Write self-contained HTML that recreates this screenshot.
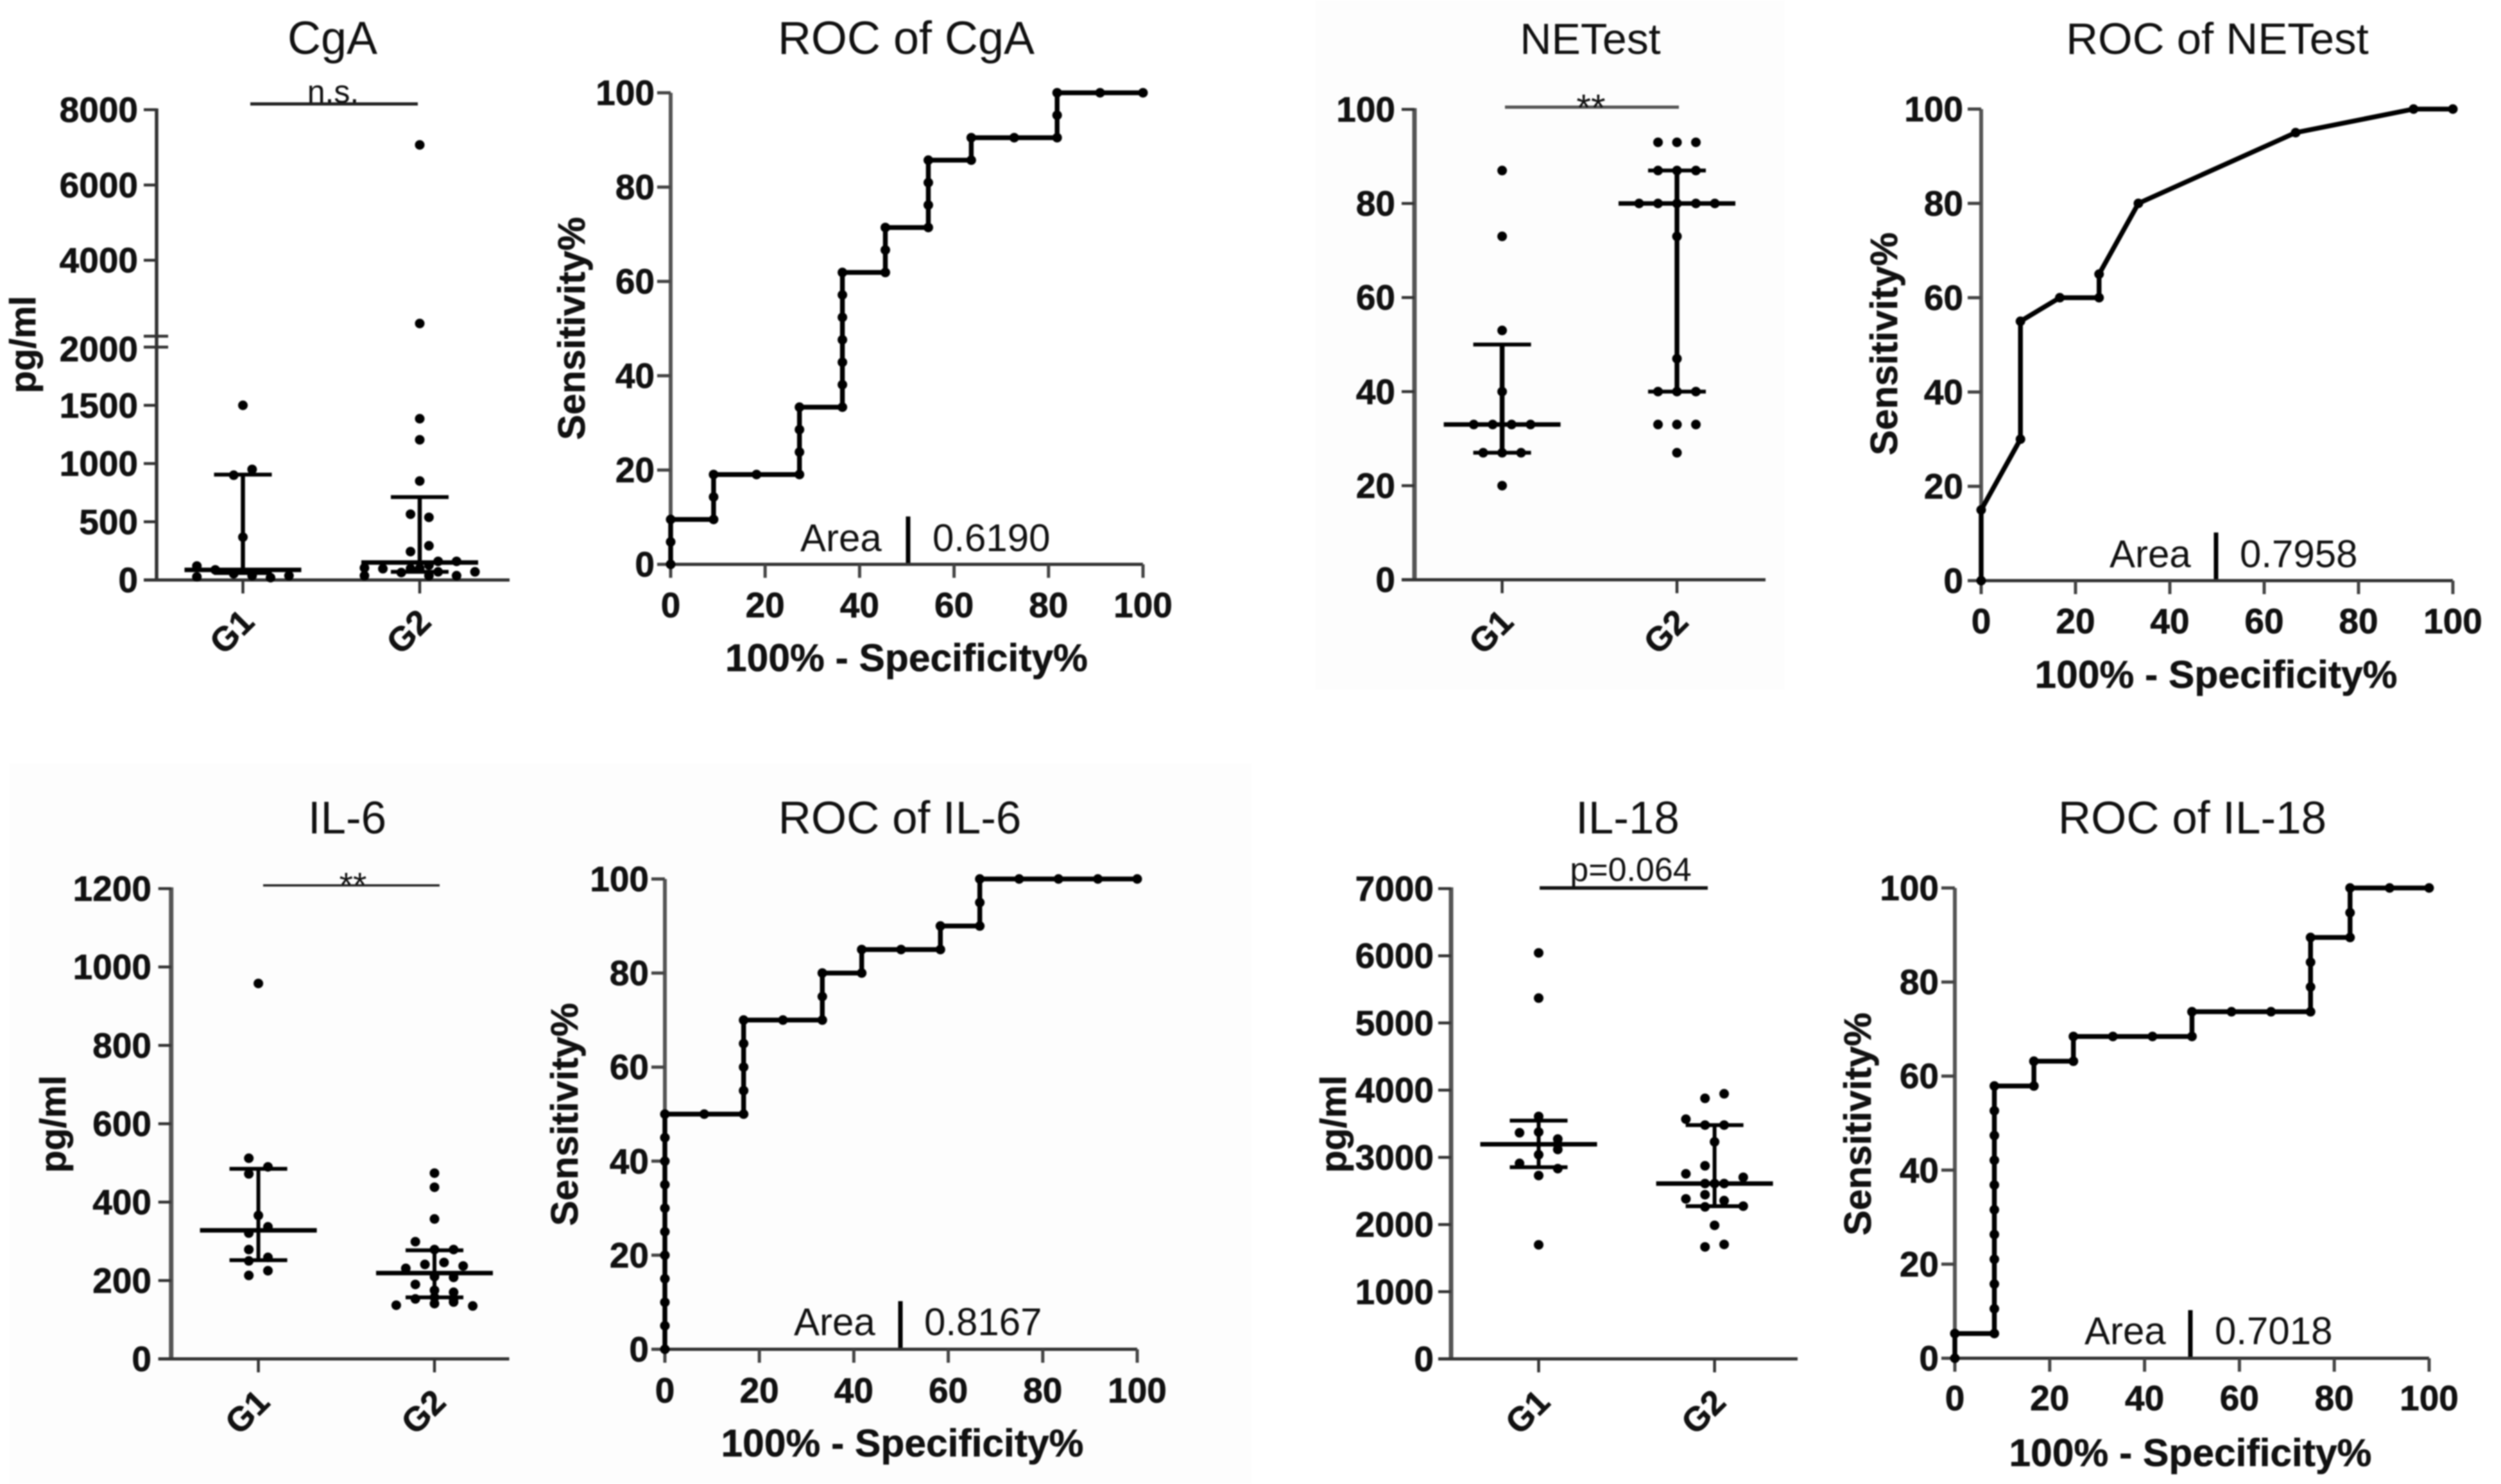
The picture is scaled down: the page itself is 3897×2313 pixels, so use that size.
<!DOCTYPE html>
<html lang="en">
<head>
<meta charset="utf-8">
<title>Biomarker strip plots and ROC curves</title>
<style>
html,body{margin:0;padding:0;background:#fff;}
svg{display:block;filter:blur(1.1px);}
text{font-family:"Liberation Sans",Arial,sans-serif;fill:#111;}
.title{font-size:71px;text-anchor:middle;}
.axis-title{font-size:59px;font-weight:bold;text-anchor:middle;stroke:#111;stroke-width:0.6px;}
.x-title{font-size:60.5px;}
.note{font-size:60px;}
.tick{font-size:55px;font-weight:bold;stroke:#111;stroke-width:0.7px;}
.category{font-size:53px;}
</style>
</head>
<body>
<svg id="figure" xmlns="http://www.w3.org/2000/svg" width="3897" height="2313" viewBox="0 0 3897 2313">
  <rect x="0" y="0" width="3897" height="2313" fill="#ffffff"/>
  <rect x="2050" y="0" width="730" height="1075" fill="#fdfdfd"/>
  <rect x="15" y="1190" width="1935" height="1123" fill="#fdfdfd"/>

  <g id="panel-cga">
    <text class="title" x="518" y="84" style="font-size:72px">CgA</text>
    <text class="axis-title" transform="translate(55 537) rotate(-90)" x="0" y="0" style="font-size:57px">pg/ml</text>
    <line x1="390" y1="162" x2="651" y2="162" stroke="#222" stroke-width="5"/>
    <text x="519" y="160" text-anchor="middle" style="font-size:50px">n.s.</text>
  </g>
  <g id="panel-roc-cga">
    <text class="title" x="1412" y="84" style="font-size:72px">ROC of CgA</text>
    <text class="axis-title" transform="translate(911 512) rotate(-90)" x="0" y="0">Sensitivity%</text>
    <text class="axis-title x-title" x="1412.5" y="1046">100% - Specificity%</text>
    <text class="note" x="1247" y="859">Area</text>
    <line x1="1415" y1="805" x2="1415" y2="879" stroke="#000" stroke-width="7"/>
    <text class="note" x="1453" y="859">0.6190</text>
  </g>

  <g id="panel-netest">
    <text class="title" x="2478" y="84" style="font-size:68px">NETest</text>
    <line x1="2345" y1="167" x2="2616" y2="167" stroke="#555" stroke-width="5"/>
    <text x="2479" y="188" text-anchor="middle" style="font-size:58px">**</text>
  </g>
  <g id="panel-roc-netest">
    <text class="title" x="3455" y="84" style="font-size:69px">ROC of NETest</text>
    <text class="axis-title" transform="translate(2956 536) rotate(-90)" x="0" y="0">Sensitivity%</text>
    <text class="axis-title x-title" x="3453" y="1072">100% - Specificity%</text>
    <text class="note" x="3287" y="884">Area</text>
    <line x1="3453" y1="830" x2="3453" y2="905" stroke="#000" stroke-width="7"/>
    <text class="note" x="3490" y="884">0.7958</text>
  </g>

  <g id="panel-il6">
    <text class="title" x="541" y="1299">IL-6</text>
    <text class="axis-title" transform="translate(102 1752) rotate(-90)" x="0" y="0" style="font-size:57px">pg/ml</text>
    <line x1="410" y1="1380" x2="685" y2="1380" stroke="#222" stroke-width="3.5"/>
    <text x="550" y="1398" text-anchor="middle" style="font-size:55px">**</text>
  </g>
  <g id="panel-roc-il6">
    <text class="title" x="1402" y="1299">ROC of IL-6</text>
    <text class="axis-title" transform="translate(900 1737) rotate(-90)" x="0" y="0">Sensitivity%</text>
    <text class="axis-title x-title" x="1406" y="2270">100% - Specificity%</text>
    <text class="note" x="1237" y="2081">Area</text>
    <line x1="1403" y1="2028" x2="1403" y2="2103" stroke="#000" stroke-width="7"/>
    <text class="note" x="1440" y="2081">0.8167</text>
  </g>

  <g id="panel-il18">
    <text class="title" x="2536" y="1299">IL-18</text>
    <text class="axis-title" transform="translate(2097 1752) rotate(-90)" x="0" y="0" style="font-size:57px">pg/ml</text>
    <line x1="2399" y1="1384" x2="2661" y2="1384" stroke="#111" stroke-width="5.5"/>
    <text x="2541" y="1373" text-anchor="middle" style="font-size:52px">p=0.064</text>
  </g>
  <g id="panel-roc-il18">
    <text class="title" x="3416" y="1299">ROC of IL-18</text>
    <text class="axis-title" transform="translate(2915 1752) rotate(-90)" x="0" y="0">Sensitivity%</text>
    <text class="axis-title x-title" x="3413" y="2285">100% - Specificity%</text>
    <text class="note" x="3248" y="2095">Area</text>
    <line x1="3413" y1="2042" x2="3413" y2="2117" stroke="#000" stroke-width="7"/>
    <text class="note" x="3451" y="2095">0.7018</text>
  </g>
</svg>

<script>
// Shared categories and ticks
const groupLabels = ['G1', 'G2'];
const rocTicks = [0, 20, 40, 60, 80, 100];

// CgA strip: values, swarm column per dot, [q1, median, q3]
const cgaTicks = [0, 500, 1000, 1500, 2000, 4000, 6000, 8000];
const cgaG1Values = [1500, 950, 900, 368, 120, 27, 87, 54, 37, 20, 37];
const cgaG1Columns = [0, 0.5, -0.5, 0, -2.5, -2.5, -1.5, -0.5, 0.5, 1.5, 2.5];
const cgaG1Stats = [60, 87, 905];
const cgaG2Values = [7065, 2320, 1385, 1204, 850, 565, 538, 294, 244, 104, 37, 97, 64, 97, 127, 37, 160, 70, 160, 37, 70, 100];
const cgaG2Columns = [0, 0, 0, 0, 0, -0.5, 0.5, 0.5, -0.5, -3, -3, -2, -1, -0.5, 0.5, 0.5, 1, 1, 2, 2, 3, 0];
const cgaG2Stats = [70, 150, 712];

// CgA ROC
const rocCgaX = [0, 0, 0, 9.09, 9.09, 9.09, 18.18, 27.27, 27.27, 27.27, 27.27, 36.36, 36.36, 36.36, 36.36, 36.36, 36.36, 36.36, 45.45, 45.45, 45.45, 54.55, 54.55, 54.55, 54.55, 63.64, 63.64, 72.73, 81.82, 81.82, 81.82, 90.91, 100];
const rocCgaY = [0, 4.76, 9.52, 9.52, 14.29, 19.05, 19.05, 19.05, 23.81, 28.57, 33.33, 33.33, 38.1, 42.86, 47.62, 52.38, 57.14, 61.9, 61.9, 66.67, 71.43, 71.43, 76.19, 80.95, 85.71, 85.71, 90.48, 90.48, 90.48, 95.24, 100, 100, 100];

// NETest strip
const netestTicks = [0, 20, 40, 60, 80, 100];
const netestG1Values = [87, 73, 53, 40, 33, 33, 33, 33, 27, 27, 27, 20];
const netestG1Columns = [0, 0, 0, 0, -1.5, -0.5, 0.5, 1.5, -1, 0, 1, 0];
const netestG1Stats = [27, 33, 50];
const netestG2Values = [93, 93, 93, 87, 87, 87, 80, 80, 80, 80, 80, 73, 47, 40, 40, 40, 33, 33, 33, 27];
const netestG2Columns = [-1, 0, 1, -1, 0, 1, -2, -1, 0, 1, 2, 0, 0, -1, 0, 1, -1, 0, 1, 0];
const netestG2Stats = [40, 80, 87];

// NETest ROC
const rocNetestX = [0, 0, 8.33, 8.33, 16.67, 25, 25, 33.33, 66.67, 91.67, 100];
const rocNetestY = [0, 15, 30, 55, 60, 60, 65, 80, 95, 100, 100];

// IL-6 strip
const il6Ticks = [0, 200, 400, 600, 800, 1000, 1200];
const il6G1Values = [958, 512, 490, 472, 366, 337, 321, 279, 250, 259, 225, 213];
const il6G1Columns = [0, -0.5, 0.5, -0.5, 0, 0.5, -0.5, -0.5, -0.5, 0.5, 0.5, -0.5];
const il6G1Stats = [252, 328, 485];
const il6G2Values = [474, 438, 357, 299, 279, 279, 231, 241, 246, 237, 210, 208, 190, 175, 170, 153, 157, 153, 141, 137, 135, 145];
const il6G2Columns = [0, 0, 0, -1, 1, 0, -1.5, -0.5, 0.5, 1.5, 0, 1, -1, 0, 1, -1, 0, 1, 0, -2, 2, 1];
const il6G2Stats = [157, 219, 277];

// IL-6 ROC
const rocIl6X = [0, 0, 0, 0, 0, 0, 0, 0, 0, 0, 0, 8.33, 16.67, 16.67, 16.67, 16.67, 16.67, 25, 33.33, 33.33, 33.33, 41.67, 41.67, 50, 58.33, 58.33, 66.67, 66.67, 66.67, 75, 83.33, 91.67, 100];
const rocIl6Y = [0, 5, 10, 15, 20, 25, 30, 35, 40, 45, 50, 50, 50, 55, 60, 65, 70, 70, 70, 75, 80, 80, 85, 85, 85, 90, 90, 95, 100, 100, 100, 100, 100];

// IL-18 strip
const il18Ticks = [0, 1000, 2000, 3000, 4000, 5000, 6000, 7000];
const il18G1Values = [6043, 5370, 3609, 3376, 3366, 3272, 3195, 3117, 3039, 2910, 2832, 2729, 1698];
const il18G1Columns = [0, 0, 0, 0, -1, 1, 1, 1, 0, -1, 1, 0, 0];
const il18G1Stats = [2853, 3195, 3547];
const il18G2Values = [3946, 3878, 3568, 3480, 3480, 3231, 2874, 2755, 2703, 2610, 2610, 2610, 2444, 2382, 2356, 2263, 2273, 1988, 1704, 1667];
const il18G2Columns = [0.5, -0.5, -1.5, -0.5, 0.5, 0, -0.5, -1.5, 1.5, -0.5, 0.5, 0, -0.5, -1.5, 0.5, -0.5, 1.5, 0, 0.5, -0.5];
const il18G2Stats = [2273, 2610, 3480];

// IL-18 ROC
const rocIl18X = [0, 0, 8.33, 8.33, 8.33, 8.33, 8.33, 8.33, 8.33, 8.33, 8.33, 8.33, 8.33, 16.67, 16.67, 25, 25, 33.33, 41.67, 50, 50, 58.33, 66.67, 75, 75, 75, 75, 83.33, 83.33, 83.33, 91.67, 100];
const rocIl18Y = [0, 5.26, 5.26, 10.53, 15.79, 21.05, 26.32, 31.58, 36.84, 42.11, 47.37, 52.63, 57.89, 57.89, 63.16, 63.16, 68.42, 68.42, 68.42, 68.42, 73.68, 73.68, 73.68, 73.68, 78.95, 84.21, 89.47, 89.47, 94.74, 100, 100, 100];

const SVG_NS = 'http://www.w3.org/2000/svg';

function addEl(parent, tag, geometry) {
  const el = document.createElementNS(SVG_NS, tag);
  for (const key in geometry) el.setAttribute(key, geometry[key]);
  parent.appendChild(el);
  return el;
}

function linearScale(d0, d1, r0, r1) {
  return function (v) { return r0 + (v - d0) * (r1 - r0) / (d1 - d0); };
}

function drawStrip(panelId, box, yScale, ticks, seriesList) {
  const g = document.getElementById(panelId);
  const axisColor = box.axisColor;

  box.axisSegments.forEach(function (seg) {
    const yAxis = addEl(g, 'line', { x1: box.axisX, x2: box.axisX, y1: yScale(seg[0]) + seg[2], y2: yScale(seg[1]) + seg[3], stroke: axisColor, 'stroke-width': box.axisWidth });
    
    
  });

  const xAxis = addEl(g, 'line', { x1: box.axisX - 20, x2: box.xEnd, y1: yScale(0), y2: yScale(0), stroke: '#333', 'stroke-width': 5 });
  
  

  ticks.forEach(function (value) {
    if (!box.hideTickMark || box.hideTickMark !== value) {
      const tickMark = addEl(g, 'line', { x1: box.axisX - 20, x2: box.axisX, y1: yScale(value), y2: yScale(value), stroke: '#333', 'stroke-width': 4.5 });
      
      
    }
    const labelY = yScale(value) + 19 + (box.hideTickMark === value ? box.breakLabelShift : 0);
    const tickLabel = addEl(g, 'text', { x: box.labelRight, y: labelY, 'text-anchor': 'end', 'class': 'tick' });
    tickLabel.textContent = String(value);
    
    
  });

  if (box.breakMarks) {
    box.breakMarks.forEach(function (markY) {
      const breakMark = addEl(g, 'line', { x1: box.axisX - 20, x2: box.axisX + 18, y1: markY, y2: markY, stroke: '#333', 'stroke-width': 4.5 });
      
      
    });
  }

  groupLabels.forEach(function (name, i) {
    const cx = box.centers[i];
    const catTick = addEl(g, 'line', { x1: cx, x2: cx, y1: yScale(0), y2: yScale(0) + 21, stroke: '#333', 'stroke-width': 4.5 });
    
    
    const lx = cx - 18;
    const ly = box.labelY;
    const catLabel = addEl(g, 'text', { x: lx, y: ly + 19, 'text-anchor': 'middle', 'class': 'tick category', transform: 'rotate(-45 ' + lx + ' ' + ly + ')' });
    catLabel.textContent = name;
    
    
  });

  seriesList.forEach(function (series, i) {
    const cx = box.centers[i];
    series.values.forEach(function (value, j) {
      const dot = addEl(g, 'circle', { cx: cx + series.columns[j] * box.columnStep, cy: yScale(value), r: 7.5, fill: '#000' });
      
      
    });
    const q1 = yScale(series.stats[0]);
    const med = yScale(series.stats[1]);
    const q3 = yScale(series.stats[2]);
    const stem = addEl(g, 'line', { x1: cx, x2: cx, y1: q1, y2: q3, stroke: '#000', 'stroke-width': box.whiskerWidth });
    
    
    const medLine = addEl(g, 'line', { x1: cx - 91, x2: cx + 91, y1: med, y2: med, stroke: '#000', 'stroke-width': 7 });
    
    
    const lowCap = addEl(g, 'line', { x1: cx - 45, x2: cx + 45, y1: q1, y2: q1, stroke: '#000', 'stroke-width': 6 });
    
    
    const highCap = addEl(g, 'line', { x1: cx - 45, x2: cx + 45, y1: q3, y2: q3, stroke: '#000', 'stroke-width': 6 });
    
    
  });
}

function drawRoc(panelId, box, xValues, yValues) {
  const g = document.getElementById(panelId);
  const xScale = linearScale(0, 100, box.x0, box.x100);
  const yScale = linearScale(0, 100, box.y0, box.y100);

  const yAxis = addEl(g, 'line', { x1: box.x0, x2: box.x0, y1: box.y0, y2: box.y100, stroke: '#555', 'stroke-width': 6 });
  
  
  const xAxis = addEl(g, 'line', { x1: box.x0, x2: box.x100, y1: box.y0, y2: box.y0, stroke: '#333', 'stroke-width': 5 });
  
  

  rocTicks.forEach(function (value) {
    const yMark = addEl(g, 'line', { x1: box.x0 - 21, x2: box.x0, y1: yScale(value), y2: yScale(value), stroke: '#444', 'stroke-width': 5 });
    
    
    const yLabel = addEl(g, 'text', { x: box.yLabelRight, y: yScale(value) + 19, 'text-anchor': 'end', 'class': 'tick' });
    yLabel.textContent = String(value);
    
    
    const xMark = addEl(g, 'line', { x1: xScale(value), x2: xScale(value), y1: box.y0, y2: box.y0 + 21, stroke: '#444', 'stroke-width': 5 });
    
    
    const xLabel = addEl(g, 'text', { x: xScale(value), y: box.xLabelY, 'text-anchor': 'middle', 'class': 'tick' });
    xLabel.textContent = String(value);
    
    
  });

  const pts = xValues.map(function (x, i) { return xScale(x) + ',' + yScale(yValues[i]); }).join(' ');
  const curve = addEl(g, 'polyline', { points: pts, fill: 'none', stroke: '#000', 'stroke-width': 7.5, 'stroke-linejoin': 'miter' });
  
  

  xValues.forEach(function (x, i) {
    const dot = addEl(g, 'circle', { cx: xScale(x), cy: yScale(yValues[i]), r: 7.5, fill: '#000' });
    
    
  });
}

// CgA uses a broken y axis: two linear segments joined at 2000
const cgaLower = linearScale(0, 2000, 904, 541);
const cgaUpper = linearScale(2000, 8000, 523, 171);
function cgaScale(v) { return v <= 2000 ? cgaLower(v) : cgaUpper(v); }

drawStrip('panel-cga', {
  axisX: 244, xEnd: 794, axisColor: '#333', axisWidth: 5.5, labelRight: 215, whiskerWidth: 6.5,
  centers: [378.5, 654], labelY: 984, columnStep: 28.7,
  axisSegments: [[0, 2000, 2, 0], [2000, 8000, 0, -2]],
  breakMarks: [524, 541], hideTickMark: 2000, breakLabelShift: 3
}, cgaScale, cgaTicks, [
  { values: cgaG1Values, columns: cgaG1Columns, stats: cgaG1Stats },
  { values: cgaG2Values, columns: cgaG2Columns, stats: cgaG2Stats }
]);

drawRoc('panel-roc-cga', { x0: 1045, x100: 1781, y0: 879.6, y100: 144.6, yLabelRight: 1020, xLabelY: 962 }, rocCgaX, rocCgaY);

drawStrip('panel-netest', {
  axisX: 2204, xEnd: 2751, axisColor: '#555', axisWidth: 7, labelRight: 2174, whiskerWidth: 7.5,
  centers: [2340.6, 2613], labelY: 984, columnStep: 29.5,
  axisSegments: [[0, 100, 2, -2]]
}, linearScale(0, 100, 903.6, 170.5), netestTicks, [
  { values: netestG1Values, columns: netestG1Columns, stats: netestG1Stats },
  { values: netestG2Values, columns: netestG2Columns, stats: netestG2Stats }
]);

drawRoc('panel-roc-netest', { x0: 3087, x100: 3822, y0: 905, y100: 170, yLabelRight: 3059, xLabelY: 987 }, rocNetestX, rocNetestY);

drawStrip('panel-il6', {
  axisX: 266.7, xEnd: 793.5, axisColor: '#555', axisWidth: 7, labelRight: 236, whiskerWidth: 6,
  centers: [402.6, 677], labelY: 2200, columnStep: 29.8,
  axisSegments: [[0, 1200, 2, -2]]
}, linearScale(0, 1200, 2118, 1385), il6Ticks, [
  { values: il6G1Values, columns: il6G1Columns, stats: il6G1Stats },
  { values: il6G2Values, columns: il6G2Columns, stats: il6G2Stats }
]);

drawRoc('panel-roc-il6', { x0: 1036, x100: 1772, y0: 2103, y100: 1370, yLabelRight: 1011, xLabelY: 2186 }, rocIl6X, rocIl6Y);

drawStrip('panel-il18', {
  axisX: 2261, xEnd: 2801, axisColor: '#555', axisWidth: 7, labelRight: 2234, whiskerWidth: 6,
  centers: [2397.5, 2671.6], labelY: 2200, columnStep: 29.8,
  axisSegments: [[0, 7000, 2, -2]]
}, linearScale(0, 7000, 2118, 1385), il18Ticks, [
  { values: il18G1Values, columns: il18G1Columns, stats: il18G1Stats },
  { values: il18G2Values, columns: il18G2Columns, stats: il18G2Stats }
]);

drawRoc('panel-roc-il18', { x0: 3046, x100: 3785, y0: 2117, y100: 1384, yLabelRight: 3021, xLabelY: 2198 }, rocIl18X, rocIl18Y);
</script>
</body>
</html>
